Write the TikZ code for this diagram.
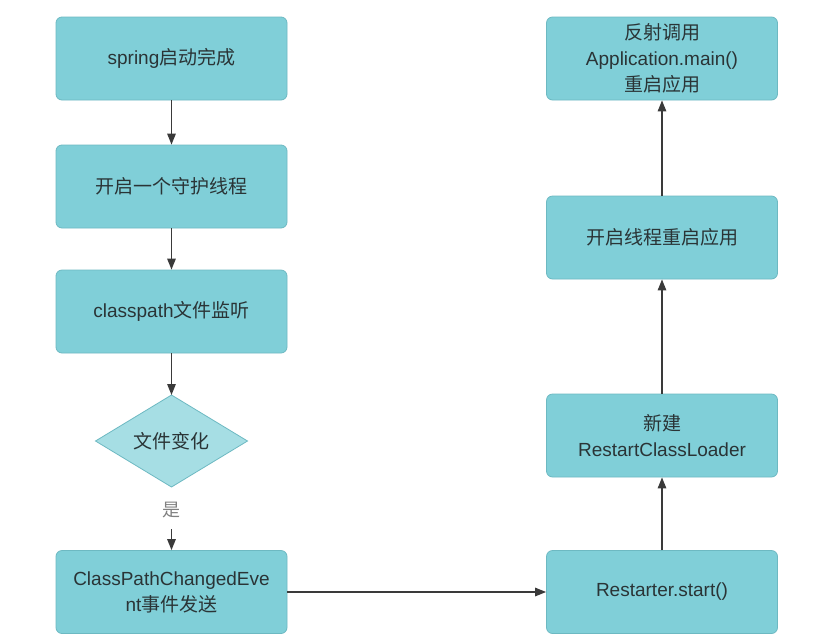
\documentclass[tikz,border=0pt]{standalone}
\usepackage{fontspec}
\setmainfont{Liberation Sans}
\newfontfamily\cjk{Noto Sans CJK SC}
\usetikzlibrary{arrows.meta}
\definecolor{boxfill}{HTML}{80CFD8}
\definecolor{boxdraw}{HTML}{6DB9C2}
\definecolor{diafill}{HTML}{A6DEE4}
\definecolor{txt}{HTML}{2A3436}
\definecolor{arr}{HTML}{3A3A3A}
\begin{document}
\begin{tikzpicture}[x=1pt,y=-1pt,
  stepbox/.style={draw=boxdraw,fill=boxfill,rounded corners=6pt,line width=0.8pt,
    minimum width=231pt,minimum height=83pt,inner sep=0pt,align=center,
    text=txt,font=\fontsize{19}{26}\selectfont},
  lbl/.style={text=txt,font=\fontsize{19}{26}\selectfont},
  conn/.style={draw=arr,line width=1.3pt,-{Triangle[length=11pt,width=8.5pt]}}]
\useasboundingbox (0,0) rectangle (819,638);
\fill[white] (0,0) rectangle (819,638);
\node[stepbox] (b1) at (171.5,58.5) {spring{\cjk 启动完成}};
\node[stepbox] (b2) at (171.5,186.5) {{\cjk 开启一个守护线程}};
\node[stepbox] (b3) at (171.5,311.5) {classpath{\cjk 文件监听}};
\path[draw=boxdraw,fill=diafill,line width=0.8pt] (171.5,395) -- (247.5,441) -- (171.5,487) -- (95.5,441) -- cycle;
\node[lbl] (d) at (171.5,441) {\cjk 文件变化};
\coordinate (dtop) at (171.5,395);
\node[text=gray,font=\fontsize{18}{20}\selectfont] (yes) at (171.5,510) {\cjk 是};
\node[stepbox] (b4) at (171.5,592) {ClassPathChangedEve\\nt{\cjk 事件发送}};
\node[stepbox] (r4) at (662,592) {Restarter.start()};
\node[stepbox] (r3) at (662,435.5) {{\cjk 新建}\\RestartClassLoader};
\node[stepbox] (r2) at (662,237.5) {{\cjk 开启线程重启应用}};
\node[stepbox] (r1) at (662,58.5) {{\cjk 反射调用}\\Application.main()\\{\cjk 重启应用}};
\draw[conn] (b1) -- (b2);
\draw[conn] (b2) -- (b3);
\draw[conn] (b3) -- (dtop);
\coordinate (ys) at (171.5,529);
\draw[conn] (ys) -- (b4);
\draw[conn] (b4) -- (r4);
\draw[conn] (r4) -- (r3);
\draw[conn] (r3) -- (r2);
\draw[conn] (r2) -- (r1);
\end{tikzpicture}
\end{document}
